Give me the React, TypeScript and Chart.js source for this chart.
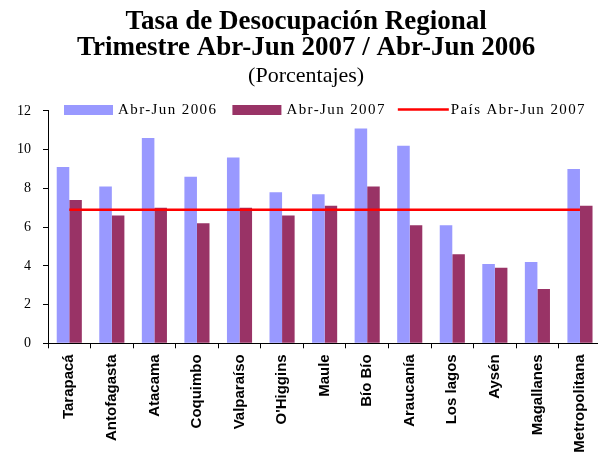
import React, { useEffect, useRef } from "react";
import { Chart, registerables } from "chart.js";

Chart.register(...registerables);

const categories = [
  "Tarapacá",
  "Antofagasta",
  "Atacama",
  "Coquimbo",
  "Valparaíso",
  "O'Higgins",
  "Maule",
  "Bío Bío",
  "Araucanía",
  "Los lagos",
  "Aysén",
  "Magallanes",
  "Metropolitana",
];

const values2006 = [9.1, 8.1, 10.6, 8.6, 9.6, 7.8, 7.7, 11.1, 10.2, 6.1, 4.1, 4.2, 9.0];
const values2007 = [7.4, 6.6, 7.0, 6.2, 7.0, 6.6, 7.1, 8.1, 6.1, 4.6, 3.9, 2.8, 7.1];
const paisValues = [6.9, 6.9, 6.9, 6.9, 6.9, 6.9, 6.9, 6.9, 6.9, 6.9, 6.9, 6.9, 6.9];

const seriesNames = ["Abr-Jun 2006", "Abr-Jun 2007", "País Abr-Jun 2007"];
const titleLines = ["Tasa de Desocupación Regional", "Trimestre Abr-Jun 2007 / Abr-Jun 2006"];
const subtitleText = "(Porcentajes)";
const yTicks = [0, 2, 4, 6, 8, 10, 12];

const COLOR_2006 = "#9999FF";
const COLOR_2007 = "#993366";
const COLOR_PAIS = "#FF0000";
const SERIF = '"Liberation Serif", "Times New Roman", serif';
const SANS = '"Liberation Sans", Arial, sans-serif';

const CANVAS_W = 612;
const CANVAS_H = 457;

const legendPlugin = {
  id: "customLegend",
  afterDraw(chart: any) {
    const ctx = chart.ctx;
    ctx.save();
    ctx.font = `15px ${SERIF}`;
    (ctx as any).letterSpacing = "1.4px";
    ctx.fillStyle = "#000";
    ctx.textBaseline = "alphabetic";
    ctx.textAlign = "left";
    const items = [
      { label: seriesNames[0], color: COLOR_2006, kind: "box" },
      { label: seriesNames[1], color: COLOR_2007, kind: "box" },
      { label: seriesNames[2], color: COLOR_PAIS, kind: "line" },
    ];
    let x = 64;
    const boxW = 49;
    const boxTop = 105;
    const boxH = 10;
    const baseline = 113.6;
    items.forEach((it, i) => {
      if (it.kind === "box") {
        ctx.fillStyle = it.color;
        ctx.fillRect(x, boxTop, boxW, boxH);
      } else {
        ctx.strokeStyle = it.color;
        ctx.lineWidth = 2.5;
        ctx.beginPath();
        ctx.moveTo(x, 109.5);
        ctx.lineTo(x + boxW + 2, 109.5);
        ctx.stroke();
      }
      const tx = x + boxW + (it.kind === "box" ? 5 : 4);
      ctx.fillStyle = "#000";
      ctx.fillText(it.label, tx, baseline);
      const w = ctx.measureText(it.label).width;
      x = tx + w + (i === 0 ? 15 : 12);
    });
    ctx.restore();
  },
};

export default function App() {
  const canvasRef = useRef<HTMLCanvasElement | null>(null);

  useEffect(() => {
    if (!canvasRef.current) return;
    const chart = new Chart(canvasRef.current, {
      type: "bar",
      data: {
        labels: categories,
        datasets: [
          {
            type: "line",
            label: seriesNames[2],
            data: paisValues,
            borderColor: COLOR_PAIS,
            backgroundColor: COLOR_PAIS,
            borderWidth: 2.5,
            pointRadius: 0,
            fill: false,
            tension: 0,
            order: 0,
          } as any,
          {
            type: "bar",
            label: seriesNames[0],
            data: values2006,
            backgroundColor: COLOR_2006,
            borderWidth: 0,
            categoryPercentage: 0.59,
            barPercentage: 1.0,
            order: 1,
          },
          {
            type: "bar",
            label: seriesNames[1],
            data: values2007,
            backgroundColor: COLOR_2007,
            borderWidth: 0,
            categoryPercentage: 0.59,
            barPercentage: 1.0,
            order: 1,
          },
        ],
      },
      options: {
        responsive: false,
        animation: false,
        devicePixelRatio: 1,
        layout: { padding: { left: 11, right: 10.75, top: 0, bottom: 0 } },
        plugins: {
          legend: { display: false },
          tooltip: { enabled: false },
          title: {
            display: true,
            text: titleLines,
            color: "#000",
            font: { family: SERIF, size: 27, weight: "bold", lineHeight: 0.975 },
            padding: { top: 8.5, bottom: 2 },
          },
          subtitle: {
            display: true,
            text: subtitleText,
            color: "#000",
            font: { family: SERIF, size: 22, weight: "normal", lineHeight: 1.2 },
            padding: { top: 0, bottom: 21.4 },
          },
        },
        scales: {
          x: {
            grid: {
              display: true,
              offset: true,
              drawOnChartArea: false,
              drawTicks: true,
              tickLength: 5,
              color: "#000",
            },
            border: { display: true, color: "#000", width: 1 },
            ticks: {
              color: "#000",
              font: { family: SANS, size: 15, weight: "bold" },
              minRotation: 90,
              maxRotation: 90,
              autoSkip: false,
              padding: 6,
            },
            afterFit(scale: any) {
              scale.height = 113.7;
            },
          },
          y: {
            min: 0,
            max: 12,
            afterBuildTicks(scale: any) {
              scale.ticks = yTicks.map((v) => ({ value: v }));
            },
            grid: {
              display: true,
              drawOnChartArea: false,
              drawTicks: true,
              tickLength: 5,
              color: "#000",
            },
            border: { display: true, color: "#000", width: 1 },
            ticks: {
              color: "#000",
              font: { family: SERIF, size: 14 },
              padding: 12,
            },
            afterFit(scale: any) {
              scale.width = 37;
            },
          },
        },
      },
      plugins: [legendPlugin],
    });
    return () => chart.destroy();
  }, []);

  return (
    <div
      style={{
        position: "fixed",
        left: 0,
        top: 0,
        width: 598,
        height: 457,
        overflow: "hidden",
        background: "#fff",
      }}
    >
      <canvas
        ref={canvasRef}
        width={CANVAS_W}
        height={CANVAS_H}
        style={{ display: "block", width: CANVAS_W, height: CANVAS_H }}
      />
    </div>
  );
}
